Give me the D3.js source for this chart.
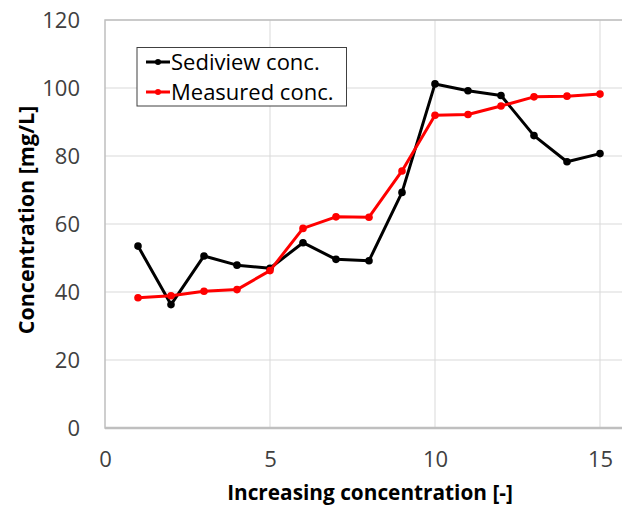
<!DOCTYPE html>
<html><head><meta charset="utf-8">
<script src="https://cdn.jsdelivr.net/npm/d3@7"></script>
<style>body{margin:0;background:#fff;} svg{display:block;}</style>
</head><body>
<svg id="c" width="622" height="506"></svg>
<script>
const xValues = [1,2,3,4,5,6,7,8,9,10,11,12,13,14,15];
const sediview = [53.5,36.3,50.6,47.9,47.0,54.5,49.6,49.2,69.3,101.2,99.2,97.8,86.0,78.3,80.7];
const measured = [38.3,38.9,40.2,40.7,46.3,58.7,62.1,62.0,75.6,92.0,92.2,94.7,97.4,97.6,98.2];
const xTicks = [0,5,10,15];
const yTicks = [0,20,40,60,80,100,120];
const seriesNames = ["Sediview conc.","Measured conc."];
const seriesColors = ["#000000","#ff0000"];

const svg = d3.select("#c");
const x = d3.scaleLinear().domain([0,16]).range([105,633]);
const y = d3.scaleLinear().domain([0,120]).range([428,20]);
const font = "'Open Sans', sans-serif";

// grid
svg.append("g").selectAll("line.h").data(yTicks.filter(d=>d>0)).join("line")
  .attr("x1",x(0)).attr("x2",x(16)).attr("y1",d=>y(d)).attr("y2",d=>y(d))
  .attr("stroke","#d9d9d9").attr("stroke-width",1);
svg.append("g").selectAll("line.v").data(xTicks.filter(d=>d>0)).join("line")
  .attr("x1",d=>x(d)).attr("x2",d=>x(d)).attr("y1",y(0)).attr("y2",y(120))
  .attr("stroke","#d9d9d9").attr("stroke-width",1);
// plot border
svg.append("rect").attr("x",x(0)).attr("y",y(120)).attr("width",x(16)-x(0)).attr("height",y(0)-y(120))
  .attr("fill","none").attr("stroke","#bfbfbf").attr("stroke-width",1.5);
svg.append("line").attr("x1",x(0)).attr("x2",x(16)).attr("y1",y(0)).attr("y2",y(0))
  .attr("stroke","#bfbfbf").attr("stroke-width",2.5);

// axes (labels only)
const yAxis = d3.axisLeft(y).tickValues(yTicks).tickSize(0).tickPadding(25);
const gy = svg.append("g").attr("transform",`translate(${x(0)},0)`).call(yAxis);
gy.select(".domain").remove();
gy.selectAll("text").attr("font-family",font).attr("font-size",22).attr("fill","#404040");
const xAxis = d3.axisBottom(x).tickValues(xTicks).tickSize(0).tickPadding(23);
const gx = svg.append("g").attr("transform",`translate(0,${y(0)})`).call(xAxis);
gx.select(".domain").remove();
gx.selectAll("text").attr("font-family",font).attr("font-size",22).attr("fill","#404040");

// titles
svg.append("text").attr("x",370).attr("y",500).attr("text-anchor","middle")
  .attr("font-family",font).attr("font-weight","bold").attr("font-size",20.8).attr("fill","#000")
  .text("Increasing concentration [-]");
svg.append("text").attr("transform","translate(34,220) rotate(-90)").attr("text-anchor","middle")
  .attr("font-family",font).attr("font-weight","bold").attr("font-size",21.5).attr("fill","#000")
  .text("Concentration [mg/L]");

// series
const line = d3.line().x((d,i)=>x(xValues[i])).y(d=>y(d));
[sediview, measured].forEach((data,k)=>{
  svg.append("path").datum(data).attr("d",line).attr("fill","none")
    .attr("stroke",seriesColors[k]).attr("stroke-width",3).attr("stroke-linejoin","round");
  svg.append("g").selectAll("circle").data(data).join("circle")
    .attr("cx",(d,i)=>x(xValues[i])).attr("cy",d=>y(d)).attr("r",3.8).attr("fill",seriesColors[k]);
});

// legend
const lg = svg.append("g");
lg.append("rect").attr("x",137).attr("y",47.5).attr("width",209.5).attr("height",58.5)
  .attr("fill","#fff").attr("stroke","#404040").attr("stroke-width",1);
seriesNames.forEach((n,k)=>{
  const cy = 62 + k*30;
  lg.append("line").attr("x1",146).attr("x2",170).attr("y1",cy).attr("y2",cy)
    .attr("stroke",seriesColors[k]).attr("stroke-width",3);
  lg.append("circle").attr("cx",158).attr("cy",cy).attr("r",3).attr("fill",seriesColors[k]);
  lg.append("text").attr("x",171).attr("y",cy+8).attr("font-family",font).attr("font-size",22)
    .attr("fill","#000").text(n);
});
</script>
</body></html>
